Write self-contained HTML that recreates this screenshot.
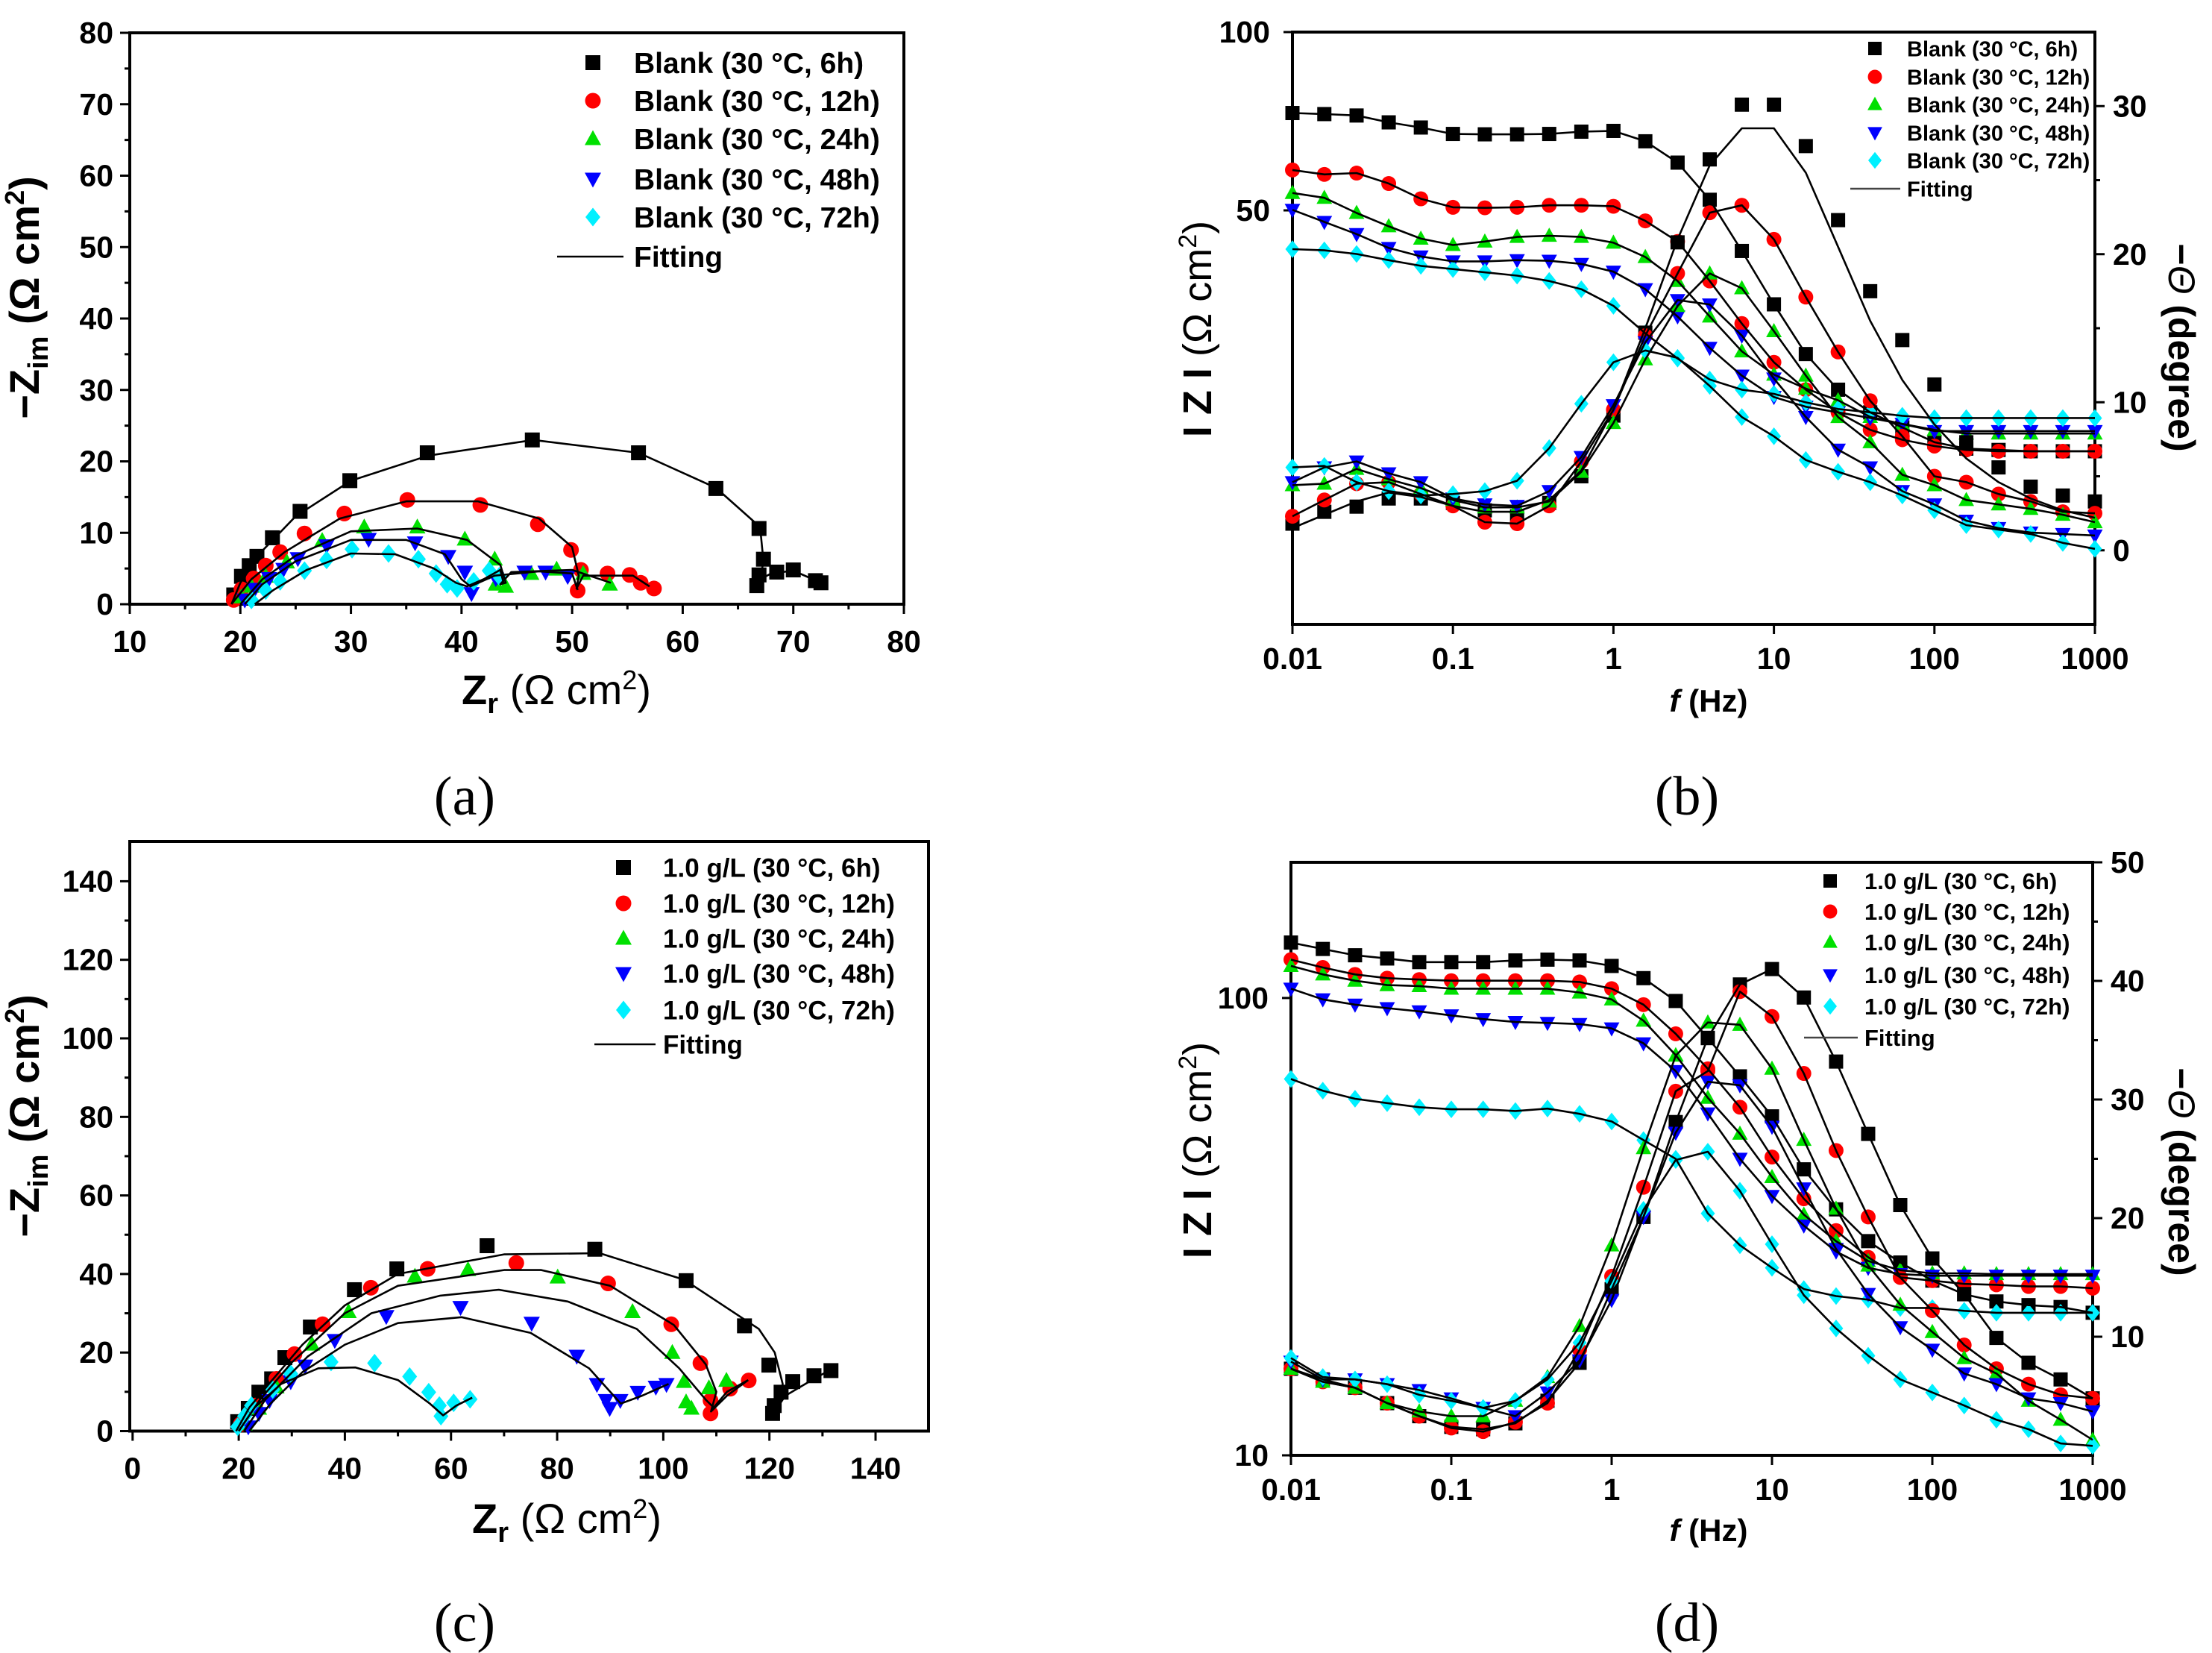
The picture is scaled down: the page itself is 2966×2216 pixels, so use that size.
<!DOCTYPE html>
<html><head><meta charset="utf-8"><style>
html,body{margin:0;padding:0;background:#fff}
svg{display:block}
text{font-family:"Liberation Sans Narrow","Liberation Sans",sans-serif;font-weight:bold;fill:#000}
.ser{font-family:"Liberation Serif",serif;font-weight:normal}
</style></head><body>
<svg id="fig" width="2966" height="2216" viewBox="0 0 2966 2216" xmlns="http://www.w3.org/2000/svg"></svg>
<script>
// ===== shared frequency categories =====
const FREQ=[0.01,0.0158,0.0251,0.0398,0.0631,0.1,0.158,0.251,0.398,0.631,1,1.58,2.51,3.98,6.31,10,15.8,25.1,39.8,63.1,100,158,251,398,631,1000];
const SER_NAMES_A=["Blank (30 °C, 6h)","Blank (30 °C, 12h)","Blank (30 °C, 24h)","Blank (30 °C, 48h)","Blank (30 °C, 72h)"];
const SER_NAMES_C=["1.0 g/L (30 °C, 6h)","1.0 g/L (30 °C, 12h)","1.0 g/L (30 °C, 24h)","1.0 g/L (30 °C, 48h)","1.0 g/L (30 °C, 72h)"];
const A_TICKS_X=[10,20,30,40,50,60,70,80];
const A_TICKS_Y=[0,10,20,30,40,50,60,70,80];
const C_TICKS=[0,20,40,60,80,100,120,140];
const F_TICKS=[0.01,0.1,1,10,100,1000];
const F_TICK_LABELS=["0.01","0.1","1","10","100","1000"];
const B_PH_TICKS=[0,10,20,30];
const D_PH_TICKS=[10,20,30,40,50];

// ===== panel (a) Nyquist, blank =====
const a6x=[19.4,20.1,20.8,21.5,22.9,25.4,29.9,36.9,46.4,56.0,63.0,66.9,67.3,66.9,66.7,68.5,70.0,72.0,72.5];
const a6y=[1.3,3.9,5.4,6.7,9.3,13.0,17.3,21.2,23.0,21.2,16.2,10.6,6.3,4.1,2.6,4.5,4.8,3.3,3.0];
const a12x=[19.4,20.1,21.2,22.3,23.6,25.8,29.4,35.1,41.7,46.9,49.9,50.8,50.5,53.2,55.2,56.2,57.4];
const a12y=[0.6,2.1,3.6,5.4,7.3,9.9,12.7,14.6,13.9,11.2,7.6,4.8,1.9,4.3,4.1,3.0,2.2];
const a24x=[20.1,21.0,22.3,24.2,27.4,31.2,36.0,40.3,43.0,43.1,44.0,46.3,48.6,51.0,53.4];
const a24y=[1.0,2.5,3.9,5.9,8.9,10.8,10.8,9.1,6.3,2.8,2.5,4.3,4.9,4.3,2.8];
const a48x=[20.4,21.3,22.6,23.9,25.2,27.8,31.6,35.8,38.8,40.3,40.9,43.1,45.7,47.6,49.6];
const a48y=[0.6,2.1,3.6,4.9,6.4,8.2,9.1,8.6,6.7,4.5,1.5,3.6,4.5,4.5,3.9];
const a72x=[21.0,22.3,23.6,25.8,27.8,30.1,33.4,36.1,37.7,38.7,39.6,41.1,42.5,43.4];
const a72y=[0.6,1.9,3.2,4.7,6.2,7.7,7.1,6.3,4.3,2.8,2.2,3.2,4.7,3.9];
const aF6x=[19.2,20,22,25,30,37,46.5,56,63,67,67.3,67,68,70,72.5];
const aF6y=[0,3,7.5,12.3,17.3,20.8,23,21.2,16.3,10.8,6,3.5,4.3,4.7,3];
const aF12x=[19.2,21,24,29,35,41.5,47,50,50.6,50.4,51,55.5,57];
const aF12y=[0,3.5,7.3,12,14.4,14.4,12,8,4,2.2,4,4,2.5];
const aF24x=[20,22,25,30,36,40.5,43.5,44,43.5,44.5,50,53.5];
const aF24y=[0,3.5,6.8,10.2,10.6,9,5.5,3,2.8,4.5,4.8,3];
const aF48x=[20.4,22,25,30,35,38.5,40,40.8,43,47,50,50.5];
const aF48y=[0,2.8,6,9,9,7,3.5,2.5,4,4.6,4.3,2];
const aF72x=[21.3,23,26,30,34,37.5,39.5,40.5,42,43.5,43.8];
const aF72y=[0,2,4.8,7.1,7,5,3,2.5,3.5,4.8,3];

// ===== panel (b) Bode, blank =====
const bZ6=[73.0,72.7,72.3,70.4,69.0,67.3,67.2,67.2,67.3,67.9,68.1,65.4,60.2,52.1,42.7,34.7,28.6,24.9,22.8,21.5,20.3,19.8,19.7,19.6,19.6,19.6];
const bZ12=[58.5,57.5,57.8,55.5,52.3,50.6,50.5,50.6,51.0,51.0,50.8,48.0,44.3,38.0,32.2,27.7,24.9,22.8,21.3,20.5,20.0,19.7,19.6,19.6,19.6,19.6];
const bZ24=[53.5,52.5,49.5,47.0,44.8,43.7,44.3,45.1,45.3,45.1,44.1,41.7,38.0,33.1,28.9,26.4,25.0,23.9,22.4,21.8,21.3,21.0,21.0,21.0,21.0,21.0];
const bZ48=[50.1,47.8,45.6,43.2,41.8,41.0,41.0,41.2,41.1,40.6,39.4,36.8,33.1,29.3,26.3,24.2,23.3,22.8,22.3,21.8,21.2,21.2,21.2,21.2,21.2,21.2];
const bZ72=[43.0,42.8,42.2,41.2,40.3,39.8,39.3,38.8,38.0,36.8,34.5,31.0,28.1,25.9,24.9,24.5,23.7,23.1,22.8,22.5,22.3,22.3,22.3,22.3,22.3,22.3];
const bP6=[1.8,2.6,2.95,3.5,3.5,3.2,2.7,2.3,3.2,5.0,9.1,14.7,20.8,26.4,30.1,30.1,27.3,22.3,17.5,14.2,11.2,7.3,5.6,4.3,3.7,3.3];
const bP12=[2.3,3.4,4.5,4.6,3.8,3.0,1.9,1.8,3.0,6.0,9.5,14.5,18.7,22.8,23.3,21.0,17.1,13.4,10.1,7.7,5.0,4.6,3.8,3.3,2.6,2.5];
const bP24=[4.4,4.5,5.5,4.8,4.2,3.4,2.9,2.9,3.3,5.3,8.6,12.9,16.5,18.7,17.7,14.8,11.8,9.0,7.3,5.1,4.4,3.4,3.1,2.8,2.4,1.9];
const bP48=[4.6,5.6,6.0,5.2,4.6,3.5,3.1,3.0,4.0,6.3,9.8,14.05,16.9,16.6,14.5,11.6,9.0,6.8,5.6,4.0,3.1,2.0,1.5,1.2,1.1,1.0];
const bP72=[5.6,5.7,4.6,4.0,3.7,3.8,4.0,4.7,6.9,9.9,12.7,13.5,13.0,11.1,9.0,7.7,6.1,5.3,4.6,3.7,2.7,1.7,1.4,1.1,0.5,0.1];
const bP6fit=[1.5,2.4,3.3,3.9,3.6,3.0,2.6,2.6,3.4,5.4,9.5,15.0,21.0,26.0,28.5,28.5,25.5,20.5,15.5,11.5,8.5,6.2,4.6,3.5,2.7,2.2];

// ===== panel (c) Nyquist, 1.0 g/L =====
const c6x=[19.8,21.8,23.8,26.2,28.7,33.5,41.8,49.8,66.8,87.1,104.3,115.3,119.9,122.2,120.9,120.6,124.4,128.4,131.6];
const c6y=[2.4,5.8,9.9,13.3,18.7,26.5,36.0,41.3,47.2,46.3,38.3,26.8,16.8,9.9,6.5,4.5,12.6,14.1,15.4];
const c12x=[20.4,23.1,27.1,30.5,35.8,44.9,55.6,72.3,89.6,101.5,107.0,108.9,108.9,112.6,116.1];
const c12y=[1.8,6.5,13.3,19.6,27.2,36.5,41.3,42.8,37.6,27.2,17.3,7.8,4.5,10.8,12.9];
const c24x=[21.1,23.8,27.1,33.8,40.7,53.2,63.2,80.1,94.2,101.7,103.9,104.3,105.3,108.6,111.9];
const c24y=[1.8,5.8,11.2,22.1,30.4,39.4,41.1,39.2,30.4,20.0,12.6,7.4,5.8,11.0,12.9];
const c48x=[21.8,23.8,25.8,29.8,32.5,38.1,47.8,61.8,75.2,83.7,87.5,89.2,89.9,91.9,95.2,98.6,100.6];
const c48y=[1.1,4.5,7.8,12.6,16.6,23.1,29.2,31.5,27.5,19.1,11.9,7.8,5.8,7.8,9.9,11.2,11.9];
const c72x=[19.8,21.1,22.4,26.4,29.8,37.4,45.6,52.2,55.8,57.8,58.1,60.5,63.6];
const c72y=[1.1,3.8,6.5,10.6,14.6,17.6,17.3,13.9,9.9,6.5,3.8,7.2,8.1];
const cF6x=[19.5,22,26,32,40,50,70,88,104,118,121,122.5,121.5,123,128,132];
const cF6y=[0,6,12.5,22,32,40,45,45.3,38.5,26,20,12,6,9,13,16];
const cF12x=[20,24,30,40,50,70,77,90,102,108,110,109,112,116];
const cF12y=[0,8,17.5,30,37,41,41,37,27,17,10,5,9,13];
const cF24x=[21,25,33,45,58,69,82,95,103,108,109.5,112,116];
const cF24y=[0,8,19,30,34.5,36,33,26,16,8,6,10,13];
const cF48x=[22,26,32,40,50,62,75,86,92,96,101];
const cF48y=[0,7,15,22,27.5,29,25,16,7,9,12];
const cF72x=[20,23,28,35,42,50,56,58.5,61,64];
const cF72y=[0,6,12,16,16.2,13,7,4,6.5,8.5];

// ===== panel (d) Bode, 1.0 g/L =====
const dZ6=[132.2,128,124,122,119.8,119.8,119.8,120.8,121.3,120.8,117.5,110.5,98.5,81.7,67.4,55.1,42.2,34.5,29.4,26.4,24.1,22.5,21.7,21.3,21.1,20.5];
const dZ12=[121.3,116.6,112.6,110.5,109.7,109.1,109.1,109.1,109.1,108.4,104.8,96.7,83.5,70.0,57.7,44.9,36.4,31.0,27.1,24.5,24.1,23.7,23.6,23.4,23.4,23.2];
const dZ24=[117.5,112.6,109.1,106.7,106.2,104.8,104.8,104.8,104.8,102.8,99.3,89.2,75.0,60.5,50.5,40.6,33.6,29.4,26.6,25.4,25.0,25.0,24.9,24.9,24.9,24.9];
const dZ48=[104.8,99.3,96.7,95.0,93.5,91.6,89.9,88.6,88.2,87.7,85.8,79.6,69.2,55.9,44.5,36.9,31.8,27.9,25.7,24.9,24.7,24.7,24.7,24.7,24.7,24.7];
const dZ72=[66.5,62.7,60.2,58.9,57.7,57.1,57.1,56.6,57.3,55.8,53.7,48.9,44.5,33.8,28.8,25.7,23.1,22.3,21.9,21.0,21.0,20.7,20.5,20.5,20.5,20.5];
const dP6=[7.3,6.4,5.7,4.4,3.3,2.4,2.2,2.7,4.6,7.8,14.0,20.1,28.1,35.2,39.7,41.0,38.6,33.2,27.1,21.1,16.6,13.6,9.9,7.8,6.4,4.8];
const dP12=[7.3,6.2,5.7,4.4,3.3,2.3,2.0,2.8,4.4,8.9,15.1,22.6,30.7,32.4,39.1,37.0,32.2,25.7,20.1,15.0,12.2,9.3,7.3,6.0,5.1,4.8];
const dP24=[7.3,6.2,5.7,4.4,3.7,3.3,3.3,4.6,6.6,10.9,17.7,25.9,33.7,36.5,36.3,32.6,26.6,20.8,16.0,12.7,10.4,8.2,6.9,4.6,3.0,1.3];
const dP48=[7.9,6.4,6.4,6.0,5.5,4.8,4.0,3.3,5.3,8.0,13.1,20.1,27.2,31.5,31.2,27.7,22.5,17.4,13.6,10.8,8.9,6.9,6.0,4.8,4.4,3.7];
const dP72=[8.2,6.6,6.4,6.0,5.1,4.6,4.0,4.6,6.4,9.5,14.7,20.7,24.9,25.6,22.3,17.8,13.5,10.7,8.4,6.4,5.3,4.2,3.0,2.2,1.0,0.8];

const COLORS=["#000000","#ff0000","#00e000","#0000ff","#00f0ff"];
const SHAPES=["square","circle","up","down","diamond"];

const NS="http://www.w3.org/2000/svg";
const svg=document.getElementById("fig");
function el(tag,attrs,parent){const e=document.createElementNS(NS,tag);for(const k in attrs)e.setAttribute(k,attrs[k]);(parent||svg).appendChild(e);return e;}
function txt(str,x,y,size,anchor,parent,cls){const t=el("text",{x:x,y:y,"font-size":size,"text-anchor":anchor||"middle"},parent);if(cls)t.setAttribute("class",cls);t.textContent=str;return t;}
function marker(shape,x,y,c,s,parent){
  let e;
  if(shape==="square")e=el("rect",{x:x-s,y:y-s,width:2*s,height:2*s,fill:c},parent);
  else if(shape==="circle")e=el("circle",{cx:x,cy:y,r:s*1.05,fill:c},parent);
  else if(shape==="up")e=el("polygon",{points:`${x},${y-s*1.15} ${x-s*1.1},${y+s*0.85} ${x+s*1.1},${y+s*0.85}`,fill:c},parent);
  else if(shape==="down")e=el("polygon",{points:`${x},${y+s*1.15} ${x-s*1.1},${y-s*0.85} ${x+s*1.1},${y-s*0.85}`,fill:c},parent);
  else e=el("polygon",{points:`${x},${y-s*1.25} ${x+s*1.0},${y} ${x},${y+s*1.25} ${x-s*1.0},${y}`,fill:c},parent);
  return e;
}
function poly(xs,ys,fx,fy,parent){
  const pts=xs.map((v,i)=>fx(v).toFixed(1)+","+fy(ys[i]).toFixed(1)).join(" ");
  return el("polyline",{points:pts,fill:"none",stroke:"#000","stroke-width":2.6,"stroke-linejoin":"round"},parent);
}

// ===== Nyquist panel builder =====
function nyquist(cfg){
  const g=el("g",{});
  
  
  const X=v=>cfg.x0+(v-cfg.xmin)/(cfg.xmax-cfg.xmin)*(cfg.x1-cfg.x0);
  const Y=v=>cfg.y0-(v-cfg.ymin)/(cfg.ymax-cfg.ymin)*(cfg.y0-cfg.y1);
  const fr=el("rect",{x:cfg.L,y:cfg.T,width:cfg.R-cfg.L,height:cfg.B-cfg.T,fill:"none",stroke:"#000","stroke-width":4},g);
  
  const ax=el("g",{},g);
  cfg.xt.forEach(v=>{el("line",{x1:X(v),x2:X(v),y1:cfg.B,y2:cfg.B+13,stroke:"#000","stroke-width":3},ax);txt(String(v),X(v),cfg.B+64,41,"middle",ax);});
  cfg.xm.forEach(v=>el("line",{x1:X(v),x2:X(v),y1:cfg.B,y2:cfg.B+7,stroke:"#000","stroke-width":3},ax));
  const ay=el("g",{},g);
  cfg.yt.forEach(v=>{el("line",{x1:cfg.L-13,x2:cfg.L,y1:Y(v),y2:Y(v),stroke:"#000","stroke-width":3},ay);txt(String(v),cfg.L-22,Y(v)+14,41,"end",ay);});
  cfg.ym.forEach(v=>el("line",{x1:cfg.L-7,x2:cfg.L,y1:Y(v),y2:Y(v),stroke:"#000","stroke-width":3},ay));
  cfg.data.forEach((d,k)=>{
    const sg=el("g",{},g);
    
    
    d[0].forEach((v,i)=>marker(SHAPES[k],X(v),Y(d[1][i]),COLORS[k],cfg.ms,sg));
  });
  cfg.fits.forEach((f,k)=>{const p=poly(f[0],f[1],X,Y,g);});
  const lg=el("g",{},g);
  cfg.leg.names.forEach((n,k)=>{
    const y=cfg.leg.rows[k];
    const it=el("g",{},lg);
    
    
    marker(SHAPES[k],cfg.leg.mx,y,COLORS[k],cfg.leg.ms,it);
    txt(n,cfg.leg.tx,y+cfg.leg.fs*0.36,cfg.leg.fs,"start",it);
  });
  const fy=cfg.leg.rows[5];
  el("line",{x1:cfg.leg.l0,x2:cfg.leg.l1,y1:fy,y2:fy,stroke:"#000","stroke-width":2.6},lg);
  txt("Fitting",cfg.leg.tx,fy+cfg.leg.fs*0.36,cfg.leg.fs,"start",lg);
  const xt=el("text",{x:cfg.xtx,y:cfg.xty,"font-size":56,"text-anchor":"middle"},g);
  
  xt.innerHTML='Z<tspan font-size="38" dy="12">r</tspan><tspan dy="-12" font-weight="normal" font-family="Liberation Sans"> (Ω cm</tspan><tspan font-size="36" dy="-20" font-weight="normal">2</tspan><tspan dy="20" font-weight="normal">)</tspan>';
  const yt=el("text",{x:0,y:0,"font-size":56,"text-anchor":"middle",transform:`translate(${cfg.ytx},${cfg.yty}) rotate(-90)`},g);
  
  yt.innerHTML='−Z<tspan font-size="38" dy="12">im</tspan><tspan dy="-12"> (Ω cm</tspan><tspan font-size="36" dy="-20">2</tspan><tspan dy="20">)</tspan>';
}

const KEYS=["6h","12h","24h","48h","72h"];
nyquist({name:"panel-a-nyquist-blank",L:174,R:1212,T:44,B:810,x0:174,x1:1212,xmin:10,xmax:80,y0:810,y1:44,ymin:0,ymax:80,
  xt:A_TICKS_X,xm:[15,25,35,45,55,65,75],yt:A_TICKS_Y,ym:[5,15,25,35,45,55,65,75],ms:10,keys:KEYS,
  data:[[a6x,a6y],[a12x,a12y],[a24x,a24y],[a48x,a48y],[a72x,a72y]],
  fits:[[aF6x,aF6y],[aF12x,aF12y],[aF24x,aF24y],[aF48x,aF48y],[aF72x,aF72y]],
  leg:{names:SER_NAMES_A,rows:[84,135,186,240,291,344],mx:795,tx:850,ms:10,fs:39,l0:747,l1:836},
  xtx:746,xty:944,ytx:52,yty:399});
nyquist({name:"panel-c-nyquist-inhibitor",L:174,R:1245,T:1128,B:1918.5,x0:177.8,x1:1174,xmin:0,xmax:140,y0:1918.5,y1:1181.4,ymin:0,ymax:140,
  xt:C_TICKS,xm:[10,30,50,70,90,110,130],yt:C_TICKS,ym:[10,30,50,70,90,110,130],ms:10,keys:KEYS,
  data:[[c6x,c6y],[c12x,c12y],[c24x,c24y],[c48x,c48y],[c72x,c72y]],
  fits:[[cF6x,cF6y],[cF12x,cF12y],[cF24x,cF24y],[cF48x,cF48y],[cF72x,cF72y]],
  leg:{names:SER_NAMES_C,rows:[1163,1211,1258,1305,1354,1400],mx:836,tx:889,ms:10,fs:35,l0:797,l1:879},
  xtx:760,xty:2055,ytx:52,yty:1496});

// ===== Bode panel builder =====
function bode(cfg){
  const g=el("g",{});
  
  
  const X=f=>cfg.L+(Math.log10(f)+2)/5*(cfg.R-cfg.L);
  const YZ=z=>cfg.B-(Math.log10(z)-Math.log10(cfg.zmin))/(Math.log10(cfg.zmax)-Math.log10(cfg.zmin))*(cfg.B-cfg.T);
  const YP=p=>cfg.B-(p-cfg.pmin)/(cfg.pmax-cfg.pmin)*(cfg.B-cfg.T);
  const fr=el("rect",{x:cfg.L,y:cfg.T,width:cfg.R-cfg.L,height:cfg.B-cfg.T,fill:"none",stroke:"#000","stroke-width":4},g);
  
  const ax=el("g",{},g);
  F_TICKS.forEach((v,i)=>{el("line",{x1:X(v),x2:X(v),y1:cfg.B,y2:cfg.B+13,stroke:"#000","stroke-width":3},ax);txt(F_TICK_LABELS[i],X(v),cfg.B+60,41,"middle",ax);});
  const al=el("g",{},g);
  cfg.zt.forEach(v=>{el("line",{x1:cfg.L-12,x2:cfg.L,y1:YZ(v),y2:YZ(v),stroke:"#000","stroke-width":3},al);txt(String(v),cfg.L-30,YZ(v)+14,41,"end",al);});
  const ar=el("g",{},g);
  cfg.pt.forEach(v=>{el("line",{x1:cfg.R,x2:cfg.R+13,y1:YP(v),y2:YP(v),stroke:"#000","stroke-width":3},ar);txt(String(v),cfg.R+24,YP(v)+14,41,"start",ar);});
  cfg.pm.forEach(v=>el("line",{x1:cfg.R,x2:cfg.R+7,y1:YP(v),y2:YP(v),stroke:"#000","stroke-width":3},ar));
  cfg.Z.forEach((arr,k)=>{
    const sg=el("g",{},g);
    
    
    arr.forEach((v,i)=>marker(SHAPES[k],X(FREQ[i]),YZ(v),COLORS[k],cfg.ms,sg));
  });
  cfg.P.forEach((arr,k)=>{
    const sg=el("g",{},g);
    
    
    arr.forEach((v,i)=>marker(SHAPES[k],X(FREQ[i]),YP(v),COLORS[k],cfg.ms,sg));
  });
  cfg.Z.forEach((arr,k)=>{const p=poly(FREQ,arr,X,YZ,g);});
  cfg.PF.forEach((arr,k)=>{const p=poly(FREQ,arr,X,YP,g);});
  const lg=el("g",{},g);
  cfg.leg.names.forEach((n,k)=>{
    const y=cfg.leg.rows[k];
    const it=el("g",{},lg);
    
    
    marker(SHAPES[k],cfg.leg.mx,y,COLORS[k],cfg.leg.ms,it);
    txt(n,cfg.leg.tx,y+cfg.leg.fs*0.36,cfg.leg.fs,"start",it);
  });
  const fy=cfg.leg.rows[5];
  el("line",{x1:cfg.leg.l0,x2:cfg.leg.l1,y1:fy,y2:fy,stroke:"#444","stroke-width":2.6},lg);
  txt("Fitting",cfg.leg.tx,fy+cfg.leg.fs*0.36,cfg.leg.fs,"start",lg);
  const xt=el("text",{x:2291,y:cfg.fty,"font-size":42,"text-anchor":"middle"},g);
  
  xt.innerHTML='<tspan font-style="italic">f</tspan>  (Hz)';
  const yl=el("text",{x:0,y:0,"font-size":54,"text-anchor":"middle",transform:`translate(1624,${cfg.lty}) rotate(-90)`},g);
  
  yl.innerHTML='I Z I <tspan font-weight="normal" font-family="Liberation Sans">(Ω cm</tspan><tspan font-size="34" dy="-20" font-weight="normal">2</tspan><tspan dy="20" font-weight="normal">)</tspan>';
  const yr=el("text",{x:0,y:0,"font-size":50,"text-anchor":"middle",transform:`translate(2908,${cfg.rty}) rotate(90)`},g);
  
  yr.innerHTML='−<tspan font-style="italic" font-weight="normal">Θ</tspan> (degree)';
}

bode({name:"panel-b-bode-blank",L:1733,R:2809,T:43,B:837,zmin:10,zmax:100,pmin:-5,pmax:35,zt:[50,100],pt:B_PH_TICKS,pm:[5,15,25],ms:9.5,
  Z:[bZ6,bZ12,bZ24,bZ48,bZ72],P:[bP6,bP12,bP24,bP48,bP72],PF:[bP6fit,bP12,bP24,bP48,bP72],
  leg:{names:SER_NAMES_A,rows:[65,103,140,178,215,253],mx:2514,tx:2557,ms:9,fs:29,l0:2481,l1:2548},
  fty:954,lty:441,rty:466});
bode({name:"panel-d-bode-inhibitor",L:1731,R:2806,T:1156,B:1951,zmin:10,zmax:198,pmin:0,pmax:50,zt:[10,100],pt:D_PH_TICKS,pm:[5,15,25,35,45],ms:9.5,
  Z:[dZ6,dZ12,dZ24,dZ48,dZ72],P:[dP6,dP12,dP24,dP48,dP72],PF:[dP6,dP12,dP24,dP48,dP72],
  leg:{names:SER_NAMES_C,rows:[1181,1222,1263,1307,1349,1391],mx:2454,tx:2500,ms:9,fs:31,l0:2419,l1:2491},
  fty:2066,lty:1542,rty:1571});

// panel letters
[["(a)",623,1092],["(b)",2262,1092],["(c)",623,2200],["(d)",2262,2200]].forEach(p=>{
  const t=txt(p[0],p[1],p[2],74,"middle",svg,"ser");
  
  
});
</script>
</body></html>
